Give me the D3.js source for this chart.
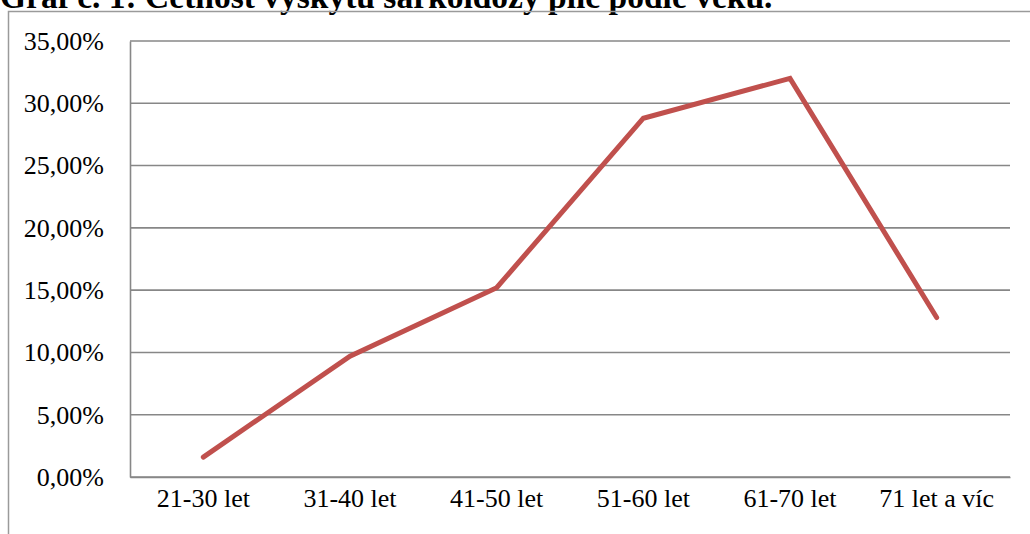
<!DOCTYPE html>
<html>
<head>
<meta charset="utf-8">
<script src="https://cdn.jsdelivr.net/npm/d3@7"></script>
<style>
  html, body { margin: 0; padding: 0; background: #fff; }
  svg { display: block; }
</style>
</head>
<body>
<svg id="chart" width="1030" height="534"></svg>
<script>
// Age groups and share of pulmonary sarcoidosis cases (%)
const categories = ["21-30 let", "31-40 let", "41-50 let", "51-60 let", "61-70 let", "71 let a víc"];
const values = [1.6, 9.7, 15.2, 28.8, 32.0, 12.8];
const yTicks = [0, 5, 10, 15, 20, 25, 30, 35];
const title = "Graf č. 1: Četnost výskytu sarkoidózy plic podle věku.";

const svg = d3.select("#chart");
const W = 1030, H = 534;
const plot = { left: 130, right: 1010, top: 41, bottom: 477 };
const serif = "'Liberation Serif', 'Times New Roman', serif";
const gray = "#878787";

// Title (sits above the frame, partly outside the page top)
svg.append("text")
  .attr("x", 0).attr("y", 8)
  .attr("font-family", serif).attr("font-weight", "bold")
  .attr("font-size", 33.5).attr("fill", "#000")
  .text(title);

// Outer frame
svg.append("path")
  .attr("d", `M8.5,${H + 2} V11.5 H${W + 2}`)
  .attr("fill", "none").attr("stroke", "#9a9a9a").attr("stroke-width", 1.5);

const x = d3.scaleBand().domain(categories).range([plot.left, plot.right]);
const y = d3.scaleLinear().domain([0, 35]).range([plot.bottom, plot.top]);

// Horizontal gridlines
svg.append("g")
  .selectAll("line").data(yTicks).join("line")
  .attr("x1", plot.left).attr("x2", plot.right)
  .attr("y1", d => y(d)).attr("y2", d => y(d))
  .attr("stroke", gray).attr("stroke-width", 1.6);

// Y axis
const fmt = d => d3.format(".2f")(d).replace(".", ",") + "%";
const yAxis = svg.append("g")
  .attr("transform", `translate(${plot.left},0)`)
  .call(d3.axisLeft(y).tickValues(yTicks).tickFormat(fmt).tickSize(0).tickPadding(26));
yAxis.select(".domain").attr("stroke", gray).attr("stroke-width", 1.6);
yAxis.selectAll("text")
  .attr("font-family", serif).attr("font-size", 26).attr("fill", "#000");

// X axis
const xAxis = svg.append("g")
  .attr("transform", `translate(0,${plot.bottom})`)
  .call(d3.axisBottom(x).tickSize(0).tickPadding(12));
xAxis.select(".domain").attr("stroke", gray).attr("stroke-width", 1.6);
xAxis.selectAll("text")
  .attr("font-family", serif).attr("font-size", 26).attr("fill", "#000");

// Data line
const line = d3.line()
  .x((d, i) => x(categories[i]) + x.bandwidth() / 2)
  .y(d => y(d));
svg.append("path")
  .datum(values)
  .attr("d", line)
  .attr("fill", "none")
  .attr("stroke", "#C0504D")
  .attr("stroke-width", 5)
  .attr("stroke-linecap", "round")
  .attr("stroke-linejoin", "miter");
</script>
</body>
</html>
